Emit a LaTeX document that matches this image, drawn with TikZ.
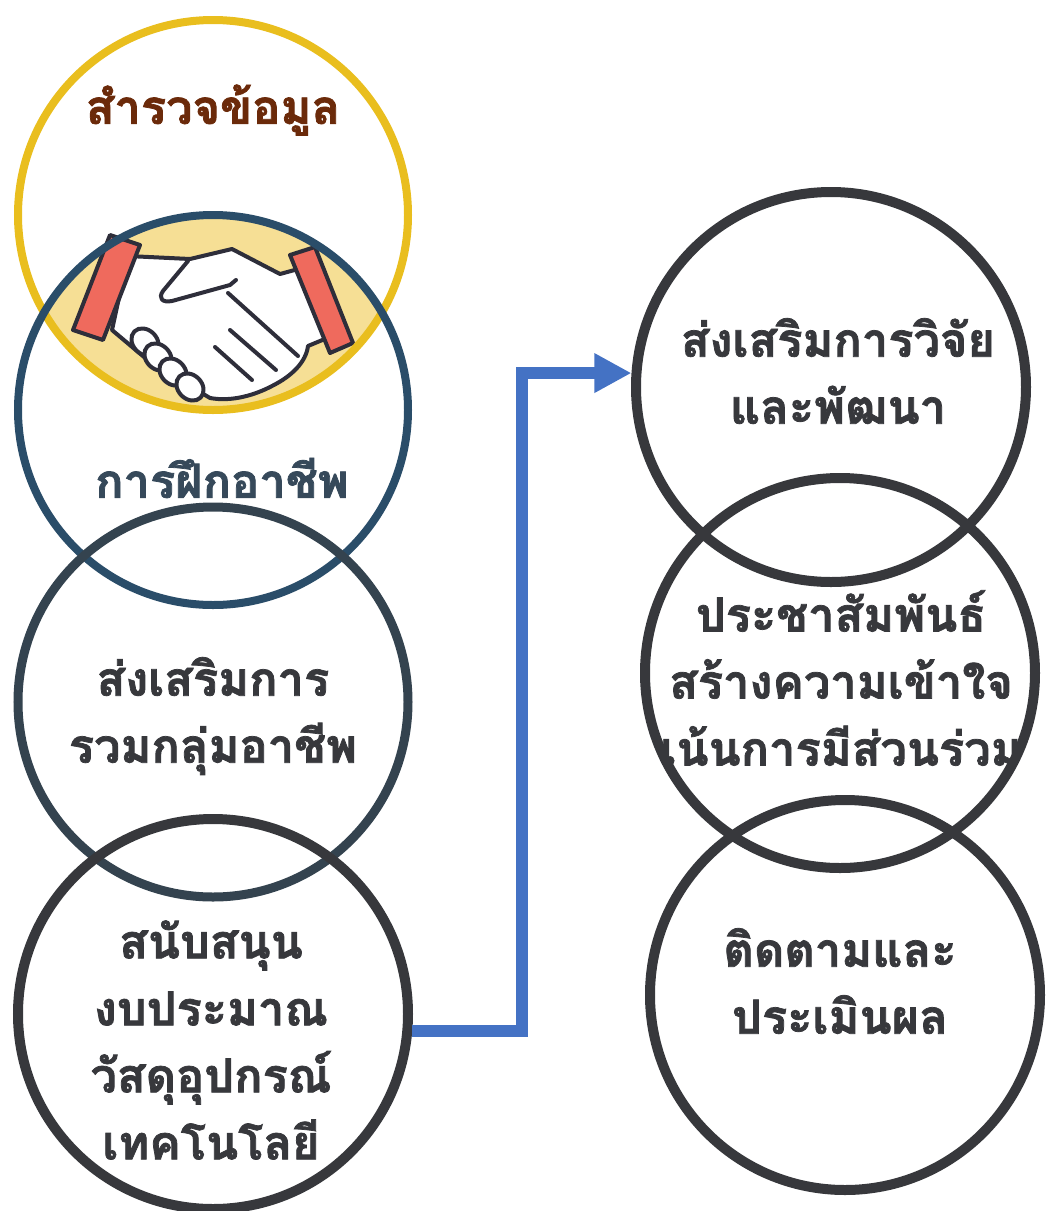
\documentclass[tikz,border=0pt]{standalone}
\usepackage{fontspec}
\newfontfamily\thaifont[Script=Thai, BoldFeatures={FakeBold=1.6}]{Loma}
\usetikzlibrary{arrows.meta, positioning}

\definecolor{gold}{HTML}{E9BE1E}
\definecolor{lens}{HTML}{F6DF95}
\definecolor{teal}{HTML}{2A4D69}
\definecolor{slate}{HTML}{34434F}
\definecolor{ink}{HTML}{37383C}
\definecolor{brown}{HTML}{6B2A0A}
\definecolor{tealtext}{HTML}{36495A}
\definecolor{cuffred}{HTML}{EF6A5D}
\definecolor{outline}{HTML}{2E2E3A}
\definecolor{arrowblue}{HTML}{4472C4}

\begin{document}
\begin{tikzpicture}[x=1pt, y=-1pt,
    ring/.style={circle, draw, minimum size=390pt, inner sep=0pt, line width=#1},
    ring/.default=10pt,
    lbl/.style={align=center, text=ink, font=\thaifont\bfseries\fontsize{47}{67}\selectfont},
    hand/.style={fill=white, draw=outline, line width=4pt, line join=round},
    hand-line/.style={draw=outline, line width=4pt, line cap=round, line join=round},
    cuff/.style={fill=cuffred, draw=outline, line width=4pt, line join=round},
    link/.style={draw=arrowblue, line width=12pt, -{Triangle[length=37pt, width=37pt]}}
  ]

  \useasboundingbox (0,0) rectangle (1050,1211);

  % lens between the first two rings
  \begin{scope}
    \clip (213,215) circle (194);
    \fill[lens] (213,410) circle (195);
  \end{scope}

  % handshake
  \filldraw[hand] (128,256) -- (190,259) -- (232,249) -- (280,274) -- (302,268) -- (332,336)
    -- (308,346) .. controls (306,362) and (292,376) .. (272,386)
    .. controls (255,395) and (232,402) .. (210,398) -- (150,362) -- (112,330) -- cycle;
  \draw[hand-line] (188,261) -- (163,291) .. controls (158,298) and (162,303) .. (172,301) -- (230,285) -- (236,280);
  \draw[hand-line] (228,293) -- (298,356);
  \draw[hand-line] (230,330) -- (276,370);
  \draw[hand-line] (215,347) -- (252,380);
  \filldraw[hand, rotate around={-45:(145,342)}] (145,342) ellipse [x radius=15, y radius=12];
  \filldraw[hand, rotate around={-45:(158,357)}] (158,357) ellipse [x radius=15, y radius=12];
  \filldraw[hand, rotate around={-45:(173,372)}] (173,372) ellipse [x radius=15, y radius=12];
  \filldraw[hand, rotate around={-45:(190,387)}] (190,387) ellipse [x radius=15, y radius=12];
  \filldraw[cuff] (110,235) -- (140,245) -- (103,340) -- (73,330) -- cycle;
  \filldraw[cuff] (290,255) -- (315,247) -- (353,343) -- (330,353) -- cycle;

  % left column
  \node (c1) [ring=8pt, draw=gold] at (213,215) {};
  \node (c2) [ring=8pt, draw=teal] at (213,410) {};
  \node (c3) [ring=9pt, draw=slate] at (213,702) {};
  \node (c4) [ring, draw=ink] at (213,1014) {};

  % right column
  \node (c5) [ring, draw=ink] at (831,387) {};
  \node (c6) [ring, draw=ink] at (840,673) {};
  \node (c7) [ring, draw=ink] at (845,995) {};

  \node (t1) [lbl, text=brown] at (213,110) {สำรวจข้อมูล};
  \node (t2) [lbl, text=tealtext] at (222,478) {การฝึกอาชีพ};
  \node (t3) [lbl] at (213,716) {ส่งเสริมการ\\รวมกลุ่มอาชีพ};
  \node (t4) [lbl] at (211,1040) {สนับสนุน\\งบประมาณ\\วัสดุอุปกรณ์\\เทคโนโลยี};
  \node (t5) [lbl] at (838,371) {ส่งเสริมการวิจัย\\และพัฒนา};
  \begin{scope}
    \clip (840,673) circle (199);
    \node (t6) [lbl] at (841,678) {ประชาสัมพันธ์\\สร้างความเข้าใจ\\เน้นการมีส่วนร่วม};
  \end{scope}
  \node (t7) [lbl] at (840,981) {ติดตามและ\\ประเมินผล};

  \draw[link] (c4.-5) -- ++(110,0) |- (c5.176);

\end{tikzpicture}
\end{document}
